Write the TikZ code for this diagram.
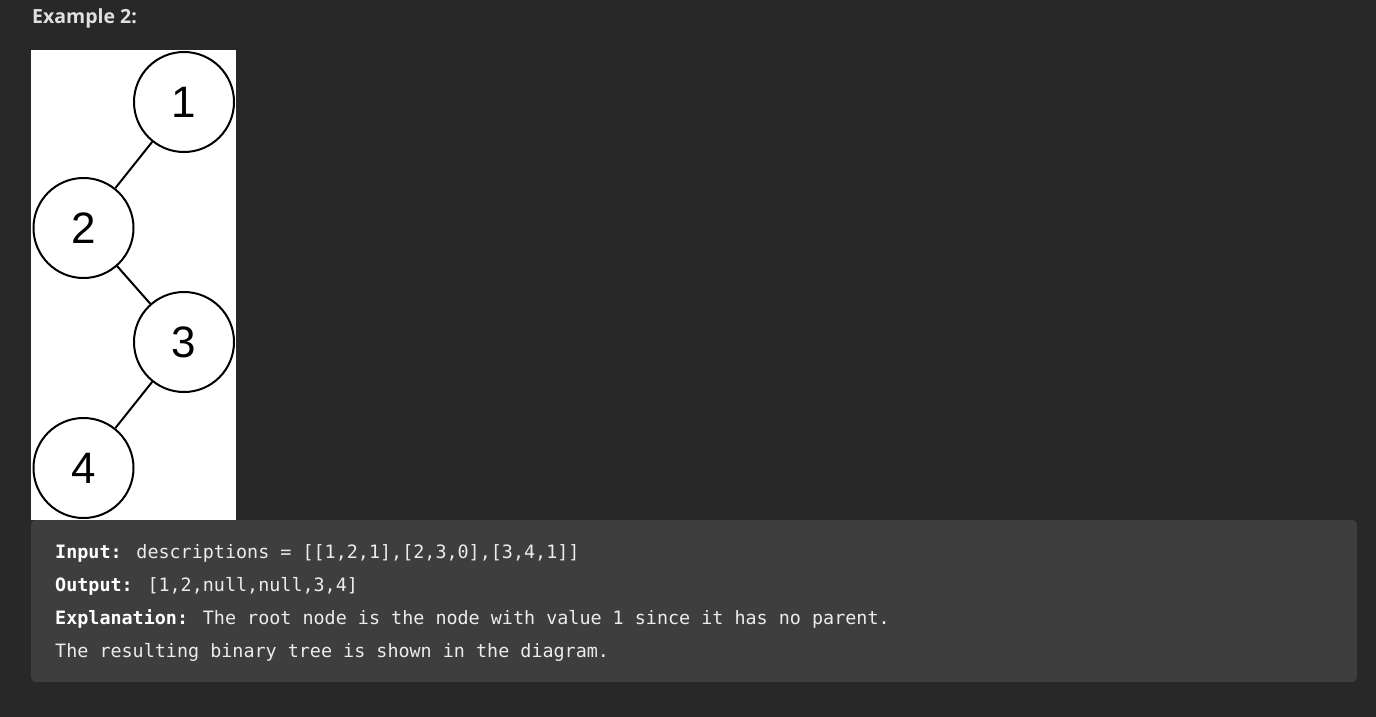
\documentclass[tikz,border=0pt]{standalone}
\usepackage{fontspec}
\setmainfont{Liberation Sans}
\newfontfamily\titlefont{Open Sans}
\newfontfamily\codefont{DejaVu Sans Mono}
\definecolor{pagebg}{RGB}{40,40,40}
\definecolor{boxbg}{RGB}{62,62,62}
\definecolor{codefg}{RGB}{236,236,236}
\definecolor{titlefg}{RGB}{224,224,224}
\begin{document}
\begin{tikzpicture}[x=1pt,y=-1pt,
  treenode/.style={circle,draw=black,line width=2pt,fill=white,minimum size=100pt,inner sep=0pt,
    font=\fontsize{44}{44}\selectfont},
  edge/.style={draw=black,line width=2pt},
  codeline/.style={anchor=base west,inner sep=0pt,text=codefg,font=\codefont\fontsize{18.4}{22}\selectfont}]
\useasboundingbox (0,0) rectangle (1376,717);
\fill[pagebg] (0,0) rectangle (1376,717);
\node[anchor=base west,inner sep=0pt,text=titlefg,font=\titlefont\bfseries\fontsize{19.5}{22}\selectfont] (title) at (32,24) {Example 2:};
\fill[white] (31,50) rectangle (236,520);
\begin{scope}
\clip (31,50) rectangle (236,520);
\node[treenode] (n1) at (184,102) {1};
\node[treenode] (n2) at (83.5,228) {2};
\node[treenode] (n3) at (184,342) {3};
\node[treenode] (n4) at (83.5,468) {4};
\draw[edge] (n1) -- (n2);
\draw[edge] (n2) -- (n3);
\draw[edge] (n3) -- (n4);
\end{scope}
\fill[boxbg,rounded corners=5pt] (31,520) rectangle (1357,682);
\node[codeline] (l1) at (55,558) {\textbf{\color{white}Input:} descriptions = [[1,2,1],[2,3,0],[3,4,1]]};
\node[codeline] (l2) at (55,591) {\textbf{\color{white}Output:} [1,2,null,null,3,4]};
\node[codeline] (l3) at (55,624) {\textbf{\color{white}Explanation:} The root node is the node with value 1 since it has no parent.};
\node[codeline] (l4) at (55,657) {The resulting binary tree is shown in the diagram.};
\end{tikzpicture}
\end{document}
